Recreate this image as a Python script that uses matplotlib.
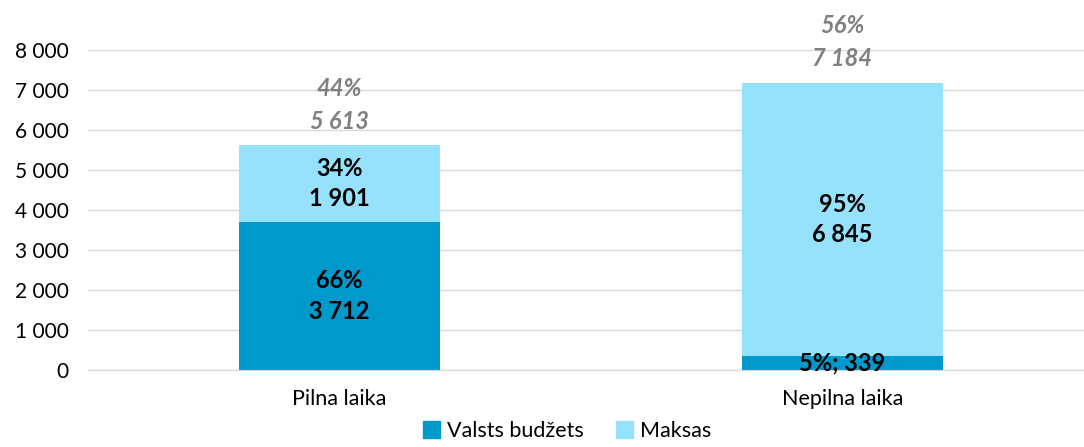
import matplotlib
matplotlib.use("Agg")
import matplotlib.pyplot as plt
from matplotlib.patches import Patch

plt.rcParams['font.family'] = ['Lato', 'DejaVu Sans']

categories = ["Pilna laika", "Nepilna laika"]
series_names = ["Valsts budžets", "Maksas"]
valsts = [3712, 339]
maksas = [1901, 6845]
valsts_pct = ["66%", "5%"]
maksas_pct = ["34%", "95%"]
totals = [5613, 7184]
total_pct = ["44%", "56%"]
yticks = [0, 1000, 2000, 3000, 4000, 5000, 6000, 7000, 8000]

c_dark = "#0099CC"
c_light = "#96E2FC"

def fmt(v):
    return f"{v:,}".replace(",", " ")

fig = plt.figure(figsize=(10.84, 4.47), dpi=100)
ax = fig.add_axes([88/1084, 77/447, 1006/1084, 320/447])

x = list(range(len(categories)))
w = 0.40
ax.bar(x, valsts, width=w, color=c_dark, zorder=3)
ax.bar(x, maksas, width=w, bottom=valsts, color=c_light, zorder=3)

ax.set_xlim(-0.5, 1.5)
ax.set_ylim(0, 8000)
ax.set_yticks(yticks)
ax.set_yticklabels([fmt(v) for v in yticks], fontsize=15)
ax.set_xticks(x)
ax.set_xticklabels(categories, fontsize=15.5)
ax.tick_params(axis='y', length=0, pad=14)
ax.tick_params(axis='x', length=0, pad=14)
ax.grid(axis='y', color="#D9D9D9", linewidth=1, zorder=0)
for s in ["top", "right", "left"]:
    ax.spines[s].set_visible(False)
ax.spines["bottom"].set_color("#D9D9D9")
ax.spines["bottom"].set_zorder(4)

lbl = dict(ha='center', va='center', fontsize=17, fontweight='bold', color='black', zorder=5)
for i in x:
    if valsts[i] > 1000:
        ax.text(i, valsts[i]/2, f"{valsts_pct[i]}\n{fmt(valsts[i])}", linespacing=1.4, **lbl)
    else:
        ax.text(i, valsts[i]/2, f"{valsts_pct[i]}; {fmt(valsts[i])}", **lbl)
    ax.text(i, valsts[i] + maksas[i]/2, f"{maksas_pct[i]}\n{fmt(maksas[i])}", linespacing=1.4, **lbl)
    ax.text(i, totals[i] + 320, f"{total_pct[i]}\n{fmt(totals[i])}", ha='center', va='bottom',
            fontsize=17, fontweight='bold', fontstyle='italic', color='#808080', linespacing=1.5,
            zorder=5, clip_on=False)

handles = [Patch(color=c_dark, label=series_names[0]), Patch(color=c_light, label=series_names[1])]
fig.legend(handles=handles, loc='lower center', bbox_to_anchor=(567/1084, -0.03), ncol=2, frameon=False,
           fontsize=15.5, handlelength=0.8, handleheight=0.8, handletextpad=0.3, columnspacing=1.5)

fig.savefig("out.png", dpi=100)
